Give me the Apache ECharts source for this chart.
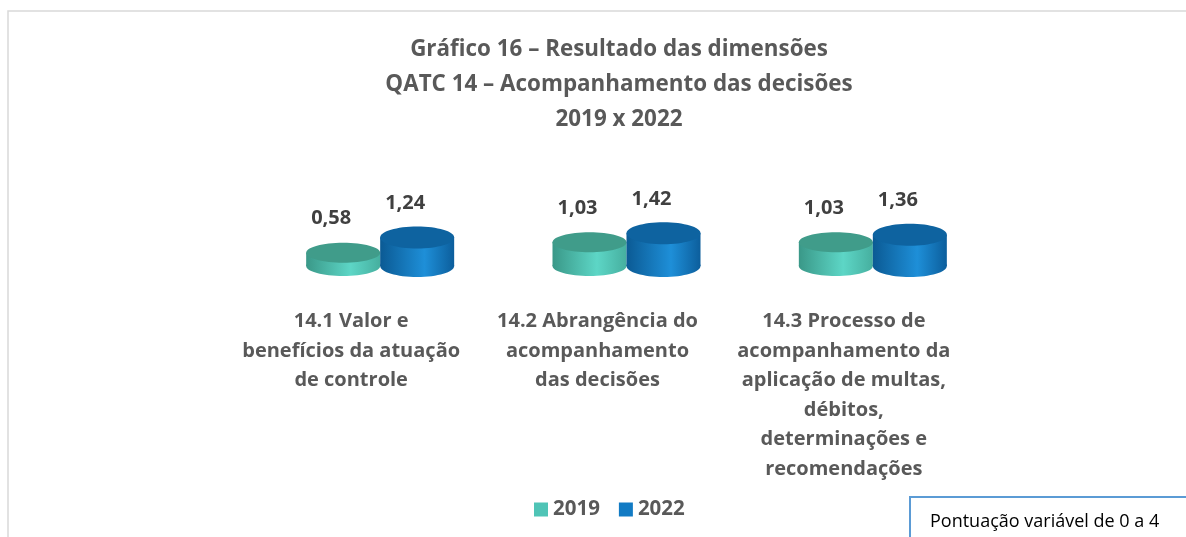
<!DOCTYPE html>
<html lang="pt-BR">
  <head>
    <meta charset="UTF-8" />
    <title>Gráfico 16</title>
    <script src="https://cdn.jsdelivr.net/npm/echarts@6.0.0/dist/echarts.min.js"></script>
    <style>
      html,
      body {
        margin: 0;
        background: #ffffff;
      }
      #chart {
        width: 1186px;
        height: 537px;
      }
    </style>
  </head>
  <body>
    <div id="chart"></div>
    <script>
      const categories = [
        "14.1 Valor e\nbenefícios da atuação\nde controle",
        "14.2 Abrangência do\nacompanhamento\ndas decisões",
        "14.3 Processo de\nacompanhamento da\naplicação de multas,\ndébitos,\ndeterminações e\nrecomendações",
      ];
      const values2019 = [0.58, 1.03, 1.03];
      const values2022 = [1.24, 1.42, 1.36];
      const seriesNames = ["2019", "2022"];

      const chart = echarts.init(document.getElementById("chart"));

      const BAR_W = 74;
      const FONT = "'Open Sans', Lato, sans-serif";

      // draws one cylinder per data item, positioned with the axis scales
      function cylinder(side, colors, ry) {
        return function (params, api) {
          const cat = api.value(0);
          const val = api.value(1);
          const top = api.coord([cat, val]);
          const base = api.coord([cat, 0]);
          const cx = top[0] + side * (BAR_W / 2);
          const body = new echarts.graphic.LinearGradient(0, 0, 1, 0, [
            { offset: 0, color: colors[0] },
            { offset: 0.6, color: colors[1] },
            { offset: 1, color: colors[2] },
          ]);
          return {
            type: "group",
            children: [
              {
                type: "ellipse",
                shape: { cx: cx, cy: base[1], rx: BAR_W / 2, ry: ry },
                style: { fill: body },
              },
              {
                type: "rect",
                shape: {
                  x: cx - BAR_W / 2,
                  y: top[1],
                  width: BAR_W,
                  height: base[1] - top[1],
                },
                style: { fill: body },
              },
              {
                type: "ellipse",
                shape: { cx: cx, cy: top[1], rx: BAR_W / 2, ry: ry },
                style: { fill: colors[3] },
              },
              {
                type: "text",
                style: {
                  x: cx - 12,
                  y: top[1] - 34,
                  text: val.toFixed(2).replace(".", ","),
                  align: "center",
                  verticalAlign: "middle",
                  fill: "#404040",
                  font: "bold 20px " + FONT,
                },
              },
            ],
          };
        };
      }

      const option = {
        animation: false,
        backgroundColor: "#ffffff",
        title: {
          text: "Gráfico 16 – Resultado das dimensões\nQATC 14 – Acompanhamento das decisões\n2019 x 2022",
          left: 614,
          textAlign: "center",
          top: 27,
          textStyle: {
            fontFamily: FONT,
            fontSize: 22.4,
            fontWeight: "bold",
            color: "#595959",
            lineHeight: 35,
          },
        },
        legend: {
          data: seriesNames,
          left: 529,
          top: 494,
          icon: "rect",
          itemWidth: 14,
          itemHeight: 14,
          itemGap: 19,
          textStyle: {
            fontFamily: FONT,
            fontSize: 20.5,
            fontWeight: "bold",
            color: "#595959",
          },
        },
        grid: { left: 257, right: 190, top: 174, bottom: 271 },
        xAxis: {
          type: "category",
          data: categories,
          axisLine: { show: false },
          axisTick: { show: false },
          axisLabel: {
            interval: 0,
            margin: 41,
            padding: [0, 58, 0, 0],
            fontFamily: FONT,
            fontSize: 20,
            fontWeight: "bold",
            color: "#595959",
            lineHeight: 29.5,
            align: "center",
            verticalAlign: "top",
          },
        },
        yAxis: { type: "value", min: 0, max: 4, show: false },
        graphic: [
          {
            type: "rect",
            shape: { x: 8, y: 11, width: 1300, height: 700 },
            style: { fill: "none", stroke: "#D9D9D9", lineWidth: 1.5 },
            silent: true,
          },
          {
            type: "rect",
            shape: { x: 910, y: 497, width: 300, height: 80 },
            style: { fill: "#ffffff", stroke: "#5B9BD5", lineWidth: 2 },
            silent: true,
          },
          {
            type: "text",
            style: {
              x: 930,
              y: 522,
              text: "Pontuação variável de 0 a 4",
              verticalAlign: "middle",
              fill: "#000000",
              font: "18px " + FONT,
            },
            silent: true,
          },
        ],
        series: [
          {
            name: seriesNames[0],
            type: "custom",
            itemStyle: { color: "#4FC4B6" },
            encode: { x: 0, y: 1 },
            data: values2019.map((v, i) => [i, v]),
            renderItem: cylinder(-1, ["#3A9888", "#5DD6C6", "#46AF9F", "#409C8A"], 10),
          },
          {
            name: seriesNames[1],
            type: "custom",
            itemStyle: { color: "#127BC4" },
            encode: { x: 0, y: 1 },
            data: values2022.map((v, i) => [i, v]),
            renderItem: cylinder(1, ["#0B5A94", "#1E8FD8", "#0C5E9C", "#0E63A0"], 11),
          },
        ],
      };

      chart.setOption(option);
    </script>
  </body>
</html>
